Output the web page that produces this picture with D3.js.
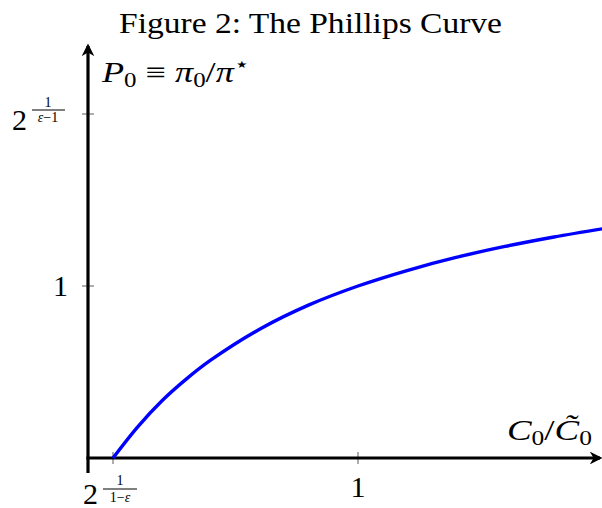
<!DOCTYPE html>
<html lang="en">
<head>
    <meta charset="UTF-8">
    <title>The Phillips Curve</title>
    <script src="https://d3js.org/d3.v7.min.js"></script>
    <style>
        body { margin: 0; background: #fff; }
        svg { display: block; }
        text { font-family: "Liberation Serif", "DejaVu Serif", serif; fill: #000; }
    </style>
</head>
<body>
    <script>
        // values (x = C0/C~0, y = P0)
        const curveX = [0.5, 0.55, 0.6, 0.65, 0.7, 0.8, 0.9, 1.0, 1.1, 1.2, 1.3, 1.4, 1.5];
        const curveY = [0, 0.18, 0.333, 0.46, 0.57, 0.75, 0.89, 1.0, 1.09, 1.166, 1.23, 1.285, 1.333];
        const xTicks = [0.5, 1];
        const yTicks = [1, 2];

        const width = 602, height = 508;
        const x0 = 88, y0 = 458;

        const svg = d3.select("body").append("svg")
            .attr("width", width)
            .attr("height", height);

        // 0.5 -> 113px, 1 -> 358px
        const x = d3.scaleLinear().domain([0.5, 1]).range([113, 358]);
        // 0 -> 458px, 1 -> 286px
        const y = d3.scaleLinear().domain([0, 1]).range([458, 286]);

        svg.append("text")
            .attr("x", 119).attr("y", 33)
            .attr("font-size", 29)
            .attr("textLength", 383)
            .attr("lengthAdjust", "spacingAndGlyphs")
            .text("Figure 2: The Phillips Curve");

        // ticks (grey, crossing the axes)
        svg.selectAll(".ytick").data(yTicks).enter().append("line")
            .attr("x1", x0 - 6).attr("x2", x0 + 6)
            .attr("y1", d => y(d)).attr("y2", d => y(d))
            .attr("stroke", "#777").attr("stroke-width", 1.2);
        svg.selectAll(".xtick").data(xTicks).enter().append("line")
            .attr("x1", d => x(d)).attr("x2", d => x(d))
            .attr("y1", y0 - 6).attr("y2", y0 + 6)
            .attr("stroke", "#777").attr("stroke-width", 1.2);

        // arrow head
        svg.append("defs").append("marker")
            .attr("id", "arr")
            .attr("viewBox", "0 0 10 10")
            .attr("refX", 8).attr("refY", 5)
            .attr("markerWidth", 4).attr("markerHeight", 4)
            .attr("markerUnits", "strokeWidth")
            .attr("orient", "auto")
            .append("path")
            .attr("d", "M0,0 L10,5 L0,10 L3,5 Z")
            .attr("fill", "#000");

        svg.append("line")
            .attr("x1", x0).attr("y1", 473).attr("x2", x0).attr("y2", 46)
            .attr("stroke", "#000").attr("stroke-width", 3.2)
            .attr("marker-end", "url(#arr)");
        svg.append("line")
            .attr("x1", x0 - 1.6).attr("y1", y0).attr("x2", 600).attr("y2", y0)
            .attr("stroke", "#000").attr("stroke-width", 3.2)
            .attr("marker-end", "url(#arr)");

        // the curve
        const pts = curveX.map((d, i) => [d, curveY[i]]);
        const line = d3.line()
            .x(d => x(d[0]))
            .y(d => y(d[1]))
            .curve(d3.curveCatmullRom);
        svg.append("path")
            .datum(pts)
            .attr("d", line)
            .attr("fill", "none")
            .attr("stroke", "#0000ff")
            .attr("stroke-width", 3.4);

        // y tick labels
        svg.append("text")
            .attr("x", 68).attr("y", y(1) + 10)
            .attr("text-anchor", "end")
            .attr("font-size", 30)
            .text("1");

        svg.append("text")
            .attr("x", 12).attr("y", y(2) + 16)
            .attr("font-size", 30)
            .text("2");
        // small fraction in the exponent
        svg.append("text").attr("x", 48).attr("y", y(2) - 7)
            .attr("text-anchor", "middle").attr("font-size", 14).text("1");
        svg.append("line").attr("x1", 32).attr("x2", 65)
            .attr("y1", y(2) - 4).attr("y2", y(2) - 4)
            .attr("stroke", "#000").attr("stroke-width", 1);
        svg.append("text").attr("x", 48).attr("y", y(2) + 8)
            .attr("text-anchor", "middle").attr("font-size", 14)
            .html("<tspan font-style='italic'>ε</tspan>−1");

        // x tick labels
        svg.append("text")
            .attr("x", x(1)).attr("y", 497)
            .attr("text-anchor", "middle")
            .attr("font-size", 30)
            .text("1");

        svg.append("text")
            .attr("x", 83).attr("y", 504)
            .attr("font-size", 30)
            .text("2");
        svg.append("text").attr("x", 120).attr("y", 485)
            .attr("text-anchor", "middle").attr("font-size", 14).text("1");
        svg.append("line").attr("x1", 103).attr("x2", 137)
            .attr("y1", 489).attr("y2", 489)
            .attr("stroke", "#000").attr("stroke-width", 1);
        svg.append("text").attr("x", 120).attr("y", 502)
            .attr("text-anchor", "middle").attr("font-size", 14)
            .html("1−<tspan font-style='italic'>ε</tspan>");

        // axis labels
        svg.append("text")
            .attr("x", 102).attr("y", 82)
            .attr("font-size", 29)
            .attr("textLength", 148)
            .attr("lengthAdjust", "spacingAndGlyphs")
            .html("<tspan font-style='italic'>P</tspan><tspan font-size='20' dy='5'>0</tspan>"
                + "<tspan dy='-5'> ≡ </tspan><tspan font-style='italic'>π</tspan>"
                + "<tspan font-size='20' dy='5'>0</tspan><tspan dy='-5'>/</tspan>"
                + "<tspan font-style='italic'>π</tspan><tspan font-size='20' dy='-11'>⋆</tspan>");

        svg.append("text")
            .attr("x", 507).attr("y", 440)
            .attr("font-size", 29)
            .attr("textLength", 85)
            .attr("lengthAdjust", "spacingAndGlyphs")
            .html("<tspan font-style='italic'>C</tspan><tspan font-size='20' dy='5'>0</tspan>"
                + "<tspan dy='-5'>/</tspan><tspan font-style='italic'>C\u0303</tspan>"
                + "<tspan font-size='20' dy='5'>0</tspan>");
    </script>
</body>
</html>
